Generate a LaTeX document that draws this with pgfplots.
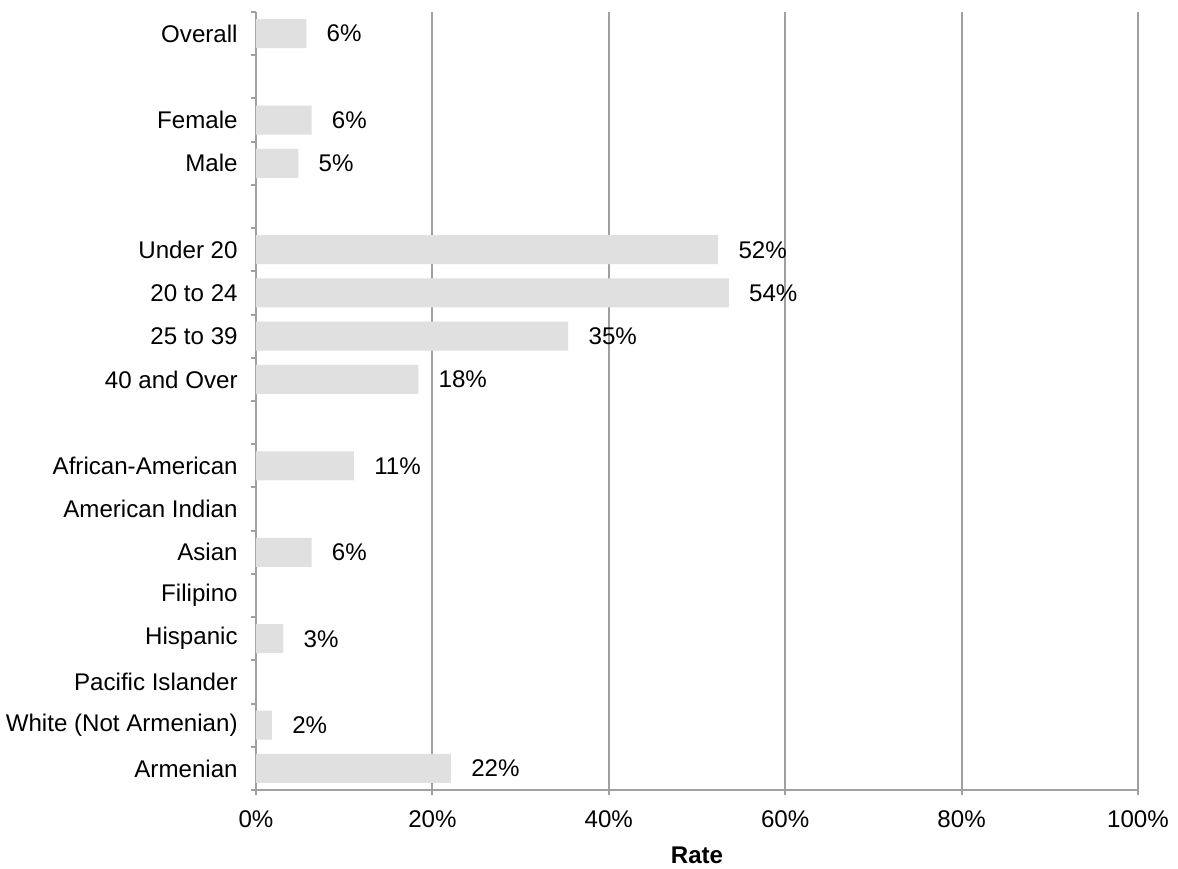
\documentclass[border=0pt]{standalone}
\usepackage{pgfplots}
\pgfplotsset{compat=1.18}
\usepackage{pgfplotstable}
\usepackage{fontspec}
\setmainfont{Liberation Sans}
\definecolor{barfill}{RGB}{224,224,224}
\definecolor{gridgray}{RGB}{160,160,160}

% row position (0 = top), rate in percent, printed label
\pgfplotstableread{
pos value label
0  5.7  6\%
2  6.3  6\%
3  4.8  5\%
5  52.4 52\%
6  53.6 54\%
7  35.4 35\%
8  18.4 18\%
10 11.1 11\%
12 6.3  6\%
14 3.1  3\%
16 1.8  2\%
17 22.1 22\%
}\ratetable

\begin{document}
\fontsize{12.1}{14}\selectfont
\begin{tikzpicture}
\path[use as bounding box] (-128bp,-39.5bp) rectangle (461bp,395bp);
\begin{axis}[
    at={(0,0)}, anchor=south west,
    scale only axis,
    width=441bp, height=389bp,
    xbar, bar width=14.5bp,
    xmin=0, xmax=100,
    ymin=-0.5, ymax=17.5,
    y dir=reverse,
    axis x line*=bottom, axis y line*=left,
    axis line style={gridgray, line width=1bp},
    tick align=outside,
    major tick length=2.5bp,
    tick style={gridgray, line width=1bp},
    xtick={0,20,40,60,80,100},
    xticklabels={0\%,20\%,40\%,60\%,80\%,100\%},
    xticklabel style={anchor=center, inner sep=0pt, yshift=-12bp},
    xmajorgrids,
    grid style={gridgray, line width=1bp},
    ytick={-0.5,0.5,...,17.5},
    yticklabels={},
    extra y ticks={0,1,...,17},
    extra y tick labels={Overall,,Female,Male,,Under 20,20 to 24,25 to 39,40 and Over,,African-American,American Indian,Asian,Filipino,Hispanic,Pacific Islander,White (Not Armenian),Armenian},
    extra y tick style={grid=none, major tick length=0pt, tick style={draw=none}},
    yticklabel style={anchor=east, inner sep=0pt, xshift=-9bp},
    xlabel={\textbf{Rate}},
    xlabel style={at={(axis description cs:0.5,0)}, anchor=center, yshift=-32.75bp},
    nodes near coords,
    point meta=explicit symbolic,
    every node near coord/.append style={anchor=west, inner sep=0pt, xshift=10bp, text=black},
]
\addplot[fill=barfill, draw=none] table[x=value, y=pos, meta=label] {\ratetable};
\end{axis}
\end{tikzpicture}
\end{document}
